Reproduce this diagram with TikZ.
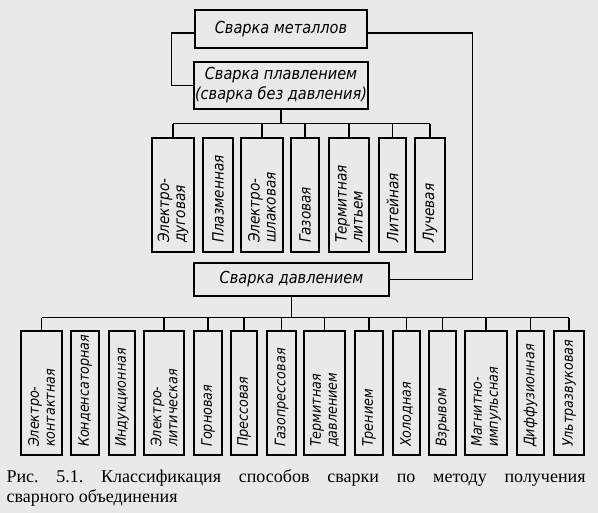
\documentclass[tikz,border=0pt]{standalone}
\usepackage{fontspec}
\setmainfont{Liberation Serif}
\newfontfamily\gost[FakeStretch=0.88]{DejaVu Sans}
\usetikzlibrary{calc}
\definecolor{paper}{RGB}{233,233,230}
\hyphenpenalty=10000
\exhyphenpenalty=10000
\frenchspacing

\begin{document}
\begin{tikzpicture}[x=1pt,y=-1pt,line width=1.1pt,
        box/.style={draw,inner sep=0pt,align=center,
          font=\gost\itshape\fontsize{16.5}{20}\selectfont},
        upbox/.style={draw,rotate=90,inner xsep=9pt,inner ysep=0pt,
          align=left,text width=96pt,
          font=\gost\itshape\fontsize{15.5}{16}\selectfont},
        lowbox/.style={draw,rotate=90,inner xsep=8pt,inner ysep=0pt,
          align=left,text width=108pt,
          font=\gost\itshape\fontsize{14.5}{16}\selectfont}]
        \useasboundingbox (0,0) rectangle (598,513);
        \fill[paper] (0,0) rectangle (598,513);

        \node[box,minimum width=172pt,minimum height=38pt] (metal)
        at (281,29) {Сварка металлов};
        \node[box,minimum width=174pt,minimum height=47pt] (plav)
        at (281,85.5) {Сварка плавлением\\(сварка без давления)};
        \node[box,minimum width=195pt,minimum height=33pt] (davl)
        at (291.5,279.5) {Сварка давлением};

        % plavlenie
        \node[upbox,minimum height=42pt] (p1) at (173,195) {Электро-\\дуговая};
        \node[upbox,minimum height=30pt] (p2) at (218,195) {Плазменная};
        \node[upbox,minimum height=42pt] (p3) at (262,195) {Электро-\\шлаковая};
        \node[upbox,minimum height=28pt] (p4) at (305,195) {Газовая};
        \node[upbox,minimum height=40pt] (p5) at (349,195) {Термитная\\литьем};
        \node[upbox,minimum height=27pt] (p6) at (392.5,195) {Литейная};
        \node[upbox,minimum height=30pt] (p7) at (430,195) {Лучевая};

        % davlenie
        \node[lowbox,minimum height=41pt] (d1) at (41.5,393) {Электро-\\контактная};
        \node[lowbox,minimum height=28pt] (d2) at (85,393) {Конденсаторная};
        \node[lowbox,minimum height=26pt] (d3) at (122,393) {Индукционная};
        \node[lowbox,minimum height=40pt] (d4) at (164,393) {Электро-\\литическая};
        \node[lowbox,minimum height=28pt] (d5) at (208,393) {Горновая};
        \node[lowbox,minimum height=26pt] (d6) at (244,393) {Прессовая};
        \node[lowbox,minimum height=29pt] (d7) at (281.5,393) {Газопрессовая};
        \node[lowbox,minimum height=41pt] (d8) at (324.5,393) {Термитная\\давлением};
        \node[lowbox,minimum height=28pt] (d9) at (369,393) {Трением};
        \node[lowbox,minimum height=27pt] (d10) at (406.5,393) {Холодная};
        \node[lowbox,minimum height=27pt] (d11) at (442.5,393) {Взрывом};
        \node[lowbox,minimum height=42pt] (d12) at (486,393) {Магнитно-\\импульсная};
        \node[lowbox,minimum height=27pt] (d13) at (530.5,393) {Диффузионная};
        \node[lowbox,minimum height=30pt] (d14) at (569,393) {Ультразвуковая};

        \draw ([yshift=-4pt]metal.west) -| ($(plav.west)+(-22,0)$) -- (plav.west);
        \draw ([yshift=-4pt]metal.east) -| ($(davl.east)+(83,0)$) -- (davl.east);
        \draw (plav.south) -- ++(0,14) coordinate (bus1);
        \draw (davl.south) -- ++(0,21) coordinate (bus2);

        \path
        (p1 |- bus1) edge (p7 |- bus1)
        (p1) edge (p1 |- bus1)
        (p3) edge (p3 |- bus1)
        (p4) edge (p4 |- bus1)
        (p5) edge (p5 |- bus1)
        (p6) edge (p6 |- bus1)
        (p7) edge (p7 |- bus1)
        ;

        \path
        (d1 |- bus2) edge (d14 |- bus2)
        (d1) edge (d1 |- bus2)
        (d4) edge (d4 |- bus2)
        (d5) edge (d5 |- bus2)
        (d6) edge (d6 |- bus2)
        (d7) edge (d7 |- bus2)
        (d8) edge (d8 |- bus2)
        (d9) edge (d9 |- bus2)
        (d10) edge (d10 |- bus2)
        (d11) edge (d11 |- bus2)
        (d12) edge (d12 |- bus2)
        (d13) edge (d13 |- bus2)
        (d14) edge (d14 |- bus2)
        ;

        \node[anchor=north west,text width=579pt,align=justify,inner sep=0pt,
        font=\fontsize{18}{20}\selectfont] (cap) at (6,469)
        {Рис. 5.1. Классификация способов сварки по методу получения\linebreak
          сварного объединения};
\end{tikzpicture}
\end{document}
